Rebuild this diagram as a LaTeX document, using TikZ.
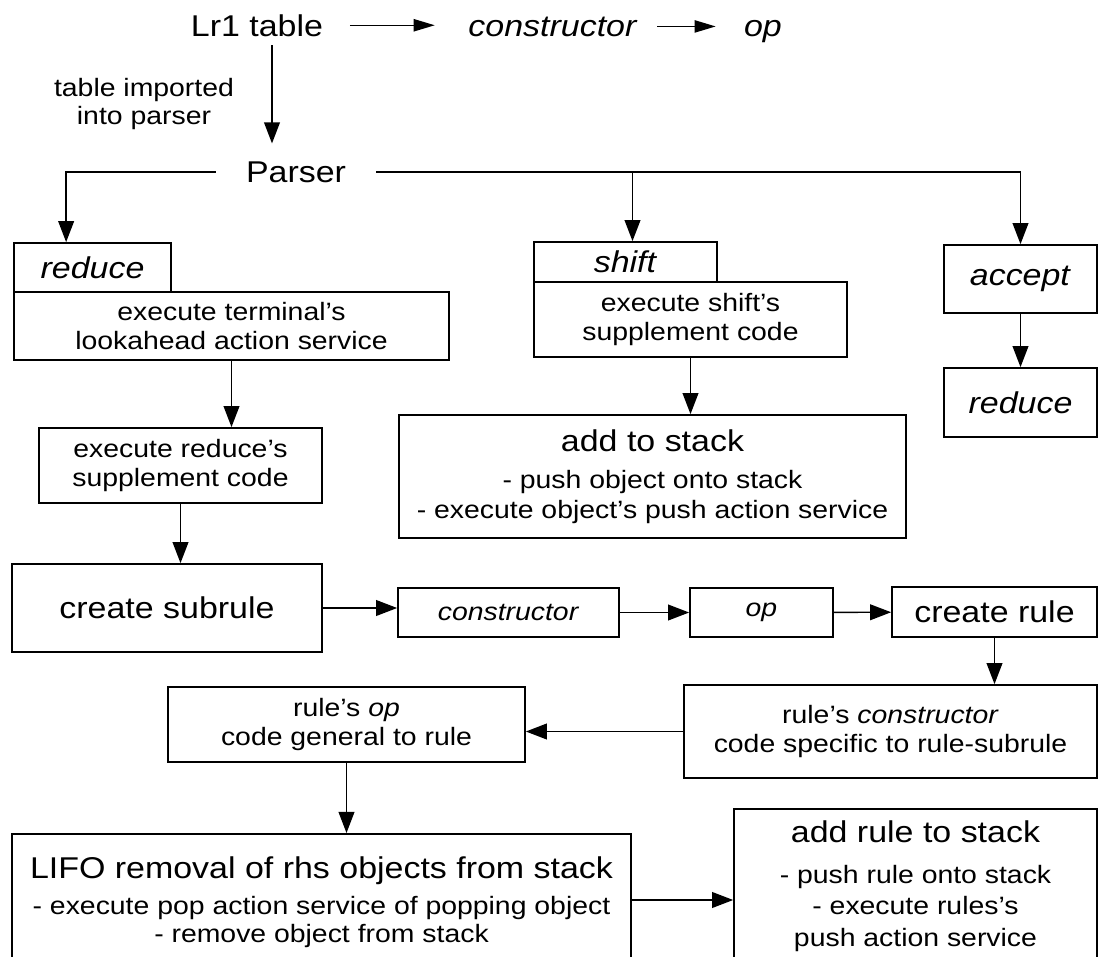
\documentclass[tikz,border=0pt]{standalone}
\usepackage{fontspec}
\setmainfont[FakeStretch=1.13]{Liberation Sans}
\usetikzlibrary{arrows.meta}
\newcommand{\bodyfont}{\fontsize{14.3pt}{16pt}\selectfont}
\newcommand{\bigfont}{\fontsize{17.1pt}{19pt}\selectfont}
\tikzset{
	box/.style={draw, line width=1pt, inner sep=0pt, align=center, font=\bodyfont},
	txt/.style={inner sep=0pt, align=center},
	arr/.style={line width=0.8pt, -{Triangle[length=12pt, width=9pt]}},
	toparr/.style={line width=0.8pt, -{Triangle[length=12pt, width=7pt]}}
}
\begin{document}
\begin{tikzpicture}[x=0.02cm, y=-0.02cm]
					\useasboundingbox (0, 0) rectangle (1100, 957);
					\node (lr1) at (257, 36)[txt, anchor = base, font = \bigfont] {Lr1 table};
					\node (ctor) at (553, 36)[txt, anchor = base, font = \bigfont] {\textit{constructor}};
					\node (optop) at (763, 36)[txt, anchor = base, font = \bigfont] {\textit{op}};
					\draw[toparr, shorten <= 15pt, shorten >= 19pt] (lr1.east) -- (lr1.east -| ctor.west);
					\draw[toparr, shorten <= 11pt, shorten >= 16pt] (ctor.east) -- (ctor.east -| optop.west);
					\node (parser) at (296, 182)[txt, anchor = base, inner xsep = 17pt, font = \bigfont] {Parser};
					\node (imported) at (144, 104)[txt, font = \bodyfont] {table imported\\into parser};
					\coordinate (impx) at (272, 0);
					\draw[arr, shorten <= 5pt, shorten >= 10pt] (lr1.south -| impx) -- (parser.north -| impx);
					\node (redtab) at (92.5, 267.5)[box, minimum width = 3.14cm, minimum height = 0.98cm, font = \bigfont] {\textit{reduce}};
					\node (terminal) at (231.5, 326)[box, minimum width = 8.7cm, minimum height = 1.36cm] {execute terminal's\\lookahead action service};
					\node (redsupp) at (180.5, 465.5)[box, minimum width = 5.66cm, minimum height = 1.5cm] {execute reduce's\\supplement code};
					\node (subrule) at (167, 608)[box, minimum width = 6.2cm, minimum height = 1.76cm, font = \bigfont] {create subrule};
					\node (shifttab) at (625.5, 262)[box, minimum width = 3.66cm, minimum height = 0.8cm, font = \bigfont] {\textit{shift}};
					\node (shiftsupp) at (690.5, 319.5)[box, minimum width = 6.26cm, minimum height = 1.5cm] {execute shift's\\supplement code};
					\node (addstack) at (652.5, 476.5)[box, minimum width = 10.14cm, minimum height = 2.46cm] {{\bigfont add to stack}\\[5pt]- push object onto stack\\[1pt]- execute object's push action service};
					\node (accept) at (1020.5, 279)[box, minimum width = 3.06cm, minimum height = 1.36cm, font = \bigfont] {\textit{accept}};
					\node (redright) at (1020.5, 402.5)[box, minimum width = 3.06cm, minimum height = 1.38cm, font = \bigfont] {\textit{reduce}};
					\node (ctorbox) at (508.5, 612.5)[box, minimum width = 4.42cm, minimum height = 0.98cm] {\textit{constructor}};
					\node (opbox) at (761.5, 612.5)[box, minimum width = 2.86cm, minimum height = 0.98cm] {\textit{op}};
					\node (crrule) at (994.5, 612)[box, minimum width = 4.1cm, minimum height = 1cm, font = \bigfont] {create rule};
					\node (rulector) at (890.5, 731.5)[box, minimum width = 8.26cm, minimum height = 1.86cm] {rule's \textit{constructor}\\[1pt]code specific to rule-subrule};
					\node (ruleop) at (346.5, 724.5)[box, minimum width = 7.14cm, minimum height = 1.5cm] {rule's \textit{op}\\[1pt]code general to rule};
					\node (lifo) at (321.5, 833)[box, anchor = north, minimum width = 12.38cm, inner ysep = 0.46cm, text depth = 60pt] {{\bigfont LIFO removal of rhs objects from stack}\\[4.5pt]- execute pop action service of popping object\\- remove object from stack};
					\node (addrule) at (915.5, 808)[box, anchor = north, minimum width = 7.26cm, inner ysep = 0.24cm, text depth = 60pt] {{\bigfont add rule to stack}\\[7pt]- push rule onto stack\\[2pt]- execute rules's\\[2pt]push action service};
					\draw[arr] (parser.west) -| ([shift={(53, 0)}]redtab.north west);
					\draw[arr] (parser.east) -| (accept.north);
					\coordinate (shiftin) at ([shift={(7, 0)}]shifttab.north);
					\draw[arr] (shiftin |- parser.east) -- (shiftin);
					\draw[arr] (terminal.south) -- (terminal.south |- redsupp.north);
					\draw[arr] (redsupp.south) -- (redsupp.south |- subrule.north);
					\draw[arr] (shiftsupp.south) -- (shiftsupp.south |- addstack.north);
					\draw[arr] (accept) -- (redright);
					\draw[arr] (subrule.east) -- (subrule.east -| ctorbox.west);
					\draw[arr] (ctorbox) -- (opbox);
					\draw[arr] (opbox) -- (crrule);
					\draw[arr] (crrule.south) -- (crrule.south |- rulector.north);
					\draw[arr] (rulector.west) -- (rulector.west -| ruleop.east);
					\draw[arr] (ruleop.south) -- (ruleop.south |- lifo.north);
					\coordinate (lvl) at (0, 900);
					\draw[arr] (lifo.east |- lvl) -- (addrule.west |- lvl);
				\end{tikzpicture}
\end{document}
